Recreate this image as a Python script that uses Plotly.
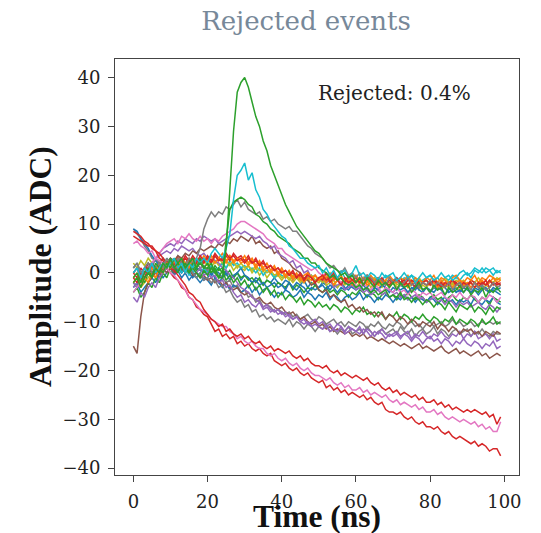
import plotly.graph_objects as go

# ---------------- data ----------------
time_ns = list(range(100))
x_ticks = [0, 20, 40, 60, 80, 100]
y_ticks = [-40, -30, -20, -10, 0, 10, 20, 30, 40]
y_tick_text = ["\u221240", "\u221230", "\u221220", "\u221210", "0", "10", "20", "30", "40"]
title_text = "Rejected events"
note_text = "Rejected: 0.4%"
x_title = "Time (ns)"
y_title = "Amplitude (ADC)"

c1_orange = [-1, 0, -2, -1, 0, 1, 0, 2, 1, 2, 1, 2, 3, 2, 1, 3, 2, 3, 2, 3.5, 2.5, 3.5, 2, 3, 4, 2.5, 3.5, 2, 3, 2.5, 3.5, 2, 3, 1.5, 2.5, 1, 2, 0.5, 1.5, 0, 1, -0.5, 0.5, -1, 0, -1.5, -0.5, 0, -1, -0.5, -1.5, -0.5, -1, 0, -1.5, -1, -0.5, -2, -1, -1.5, -0.5, -1.5, -1, -2, -0.5, -1.5, -1, -2, -1.5, -0.5, -1.5, -2, -1, -1.5, -0.5, -2, -1, -1.5, -2, -1, -1.5, -0.5, -2, -1, -1.5, -2.5, -1, -0.5, -1.5, -2, -1, -1.5, -0.5, -2, -1, -1.5, -0.5, -1, -1.5, -1]
c2_red = [0, -1, 1, 0, 2, 1, 0, 1, 2, 1, 2, 1, 3, 2, 3, 2, 3.5, 2.5, 3, 2, 3.5, 2.5, 4, 3, 2.5, 3.5, 2.5, 4, 3, 3.5, 2.5, 3.5, 2, 3, 1.5, 2, 1, 1.5, 0.5, 1, 0, 0.5, -0.5, 0, -1, -0.5, -1.5, 0, -1, -2, -1, -1.5, 0, -2, -1, -1.5, -2.5, -1, -2, -1.5, -2, -1, -2.5, -1.5, -1, -2.5, -2, -1, -2, -2.5, -1.5, -2, -1, -2.5, -1.5, -2, -3, -1.5, -2, -2.5, -2, -1.5, -2.5, -2, -3, -2, -1.5, -2.5, -2, -3, -2.5, -1.5, -2, -3, -2, -2.5, -1.5, -2.5, -2, -2.5]
c3_olive = [-2, -1, -3, -2, -1, 0, -1, 1, 0, 1, 0, 1, 2, 1, 2, 1, 2.5, 1.5, 2, 1, 2, 1, 2.5, 1.5, 2, 1, 2, 0.5, 1.5, 1, 0.5, 1.5, 0, 1, -0.5, 0.5, -1, 0, -1, -0.5, -1.5, -0.5, -1, -2, -1, -1.5, -2, -1, -2.5, -1.5, -2, -1, -2.5, -2, -1.5, -3, -2, -2.5, -1.5, -2, -3, -2, -2.5, -1.5, -3, -2, -2.5, -3, -2, -2.5, -2, -3, -2.5, -2, -3, -2.5, -2, -3.5, -2.5, -3, -2, -3, -2.5, -3.5, -2.5, -3, -2, -3, -3.5, -2.5, -3, -2, -3, -2.5, -3.5, -2.5, -3, -2, -3, -2.5]
c4_blue = [-3, -2, -4, -3, -2, -1, -2, 0, -1, 0, 1, 0, 1, 0, 2, 1, 0, 1, 0.5, 0, 1, -0.5, 0.5, 0, -1, 0.5, -0.5, -1, 0, -1.5, -0.5, -1, -2, -1, -1.5, -2.5, -1.5, -2, -1, -2, -2.5, -1.5, -2, -3, -2, -2.5, -1.5, -3, -2, -2.5, -3, -2, -2.5, -3.5, -2.5, -3, -2, -3, -3.5, -2.5, -3, -2.5, -3.5, -3, -2, -3, -3.5, -2.5, -3, -4, -3, -3.5, -2.5, -3, -4, -3, -3.5, -2.5, -3.5, -3, -4, -3, -3.5, -2.5, -3, -4, -3.5, -3, -4, -3, -3.5, -4, -3, -3.5, -2.5, -3.5, -4, -3, -3.5, -3]
c5_cyan = [1, 2, 0, 1, 2, 1, 0, 2, 1, 3, 2, 1, 2, 0, 1, -0.5, 0.5, -1, 0, 1, 0, 1.5, 0.5, 1, 2, 1, 2.5, 1.5, 2, 1, 1.5, 0.5, 1, 0, 1, -0.5, 0.5, 0, -1, 0, -0.5, -1, 0, -1.5, -0.5, -1, -2, -1, -0.5, -1.5, -1, -2, -1, -1.5, -0.5, -1.5, 0.5, -1, -1.5, -0.5, -1, -2, -1, -0.5, -1.5, -1, -2, -1.5, -0.5, -1, -1.5, -1, -2, -1, -1.5, -0.5, -1, -2, -1.5, -1, -0.5, -1.5, -1, -2, -1, -1.5, -0.5, -1, -1.5, -0.5, 0, -1, 0.5, 0, 1, 0, 0.5, 1, 0, 0.5]
c6_orange = [-2, -1, -3, -1, -2, 0, -1, 1, 0, 2, 1, 2, 1, 3, 2, 1, 3, 2, 3, 2, 3, 2, 3.5, 2.5, 3, 2, 3.5, 2.5, 3, 2, 2.5, 1.5, 2.5, 1, 2, 0.5, 1, 0, 1, -0.5, 0.5, -1, 0, -1.5, -0.5, -1, -2, -1, -1.5, -0.5, -1.5, -1, -2, -1, -2.5, -1.5, -1, -2, -1.5, -2.5, -1.5, -2, -1, -2.5, -2, -1.5, -2.5, -1.5, -2, -3, -2, -1.5, -2.5, -2, -3, -2, -1.5, -2.5, -2, -1.5, -2.5, -2, -3, -1.5, -2.5, -2, -3, -2, -1.5, -2.5, -2, -3, -2, -2.5, -1.5, -2.5, -2, -1, -2, -1.5]
c7_green = [-4, -3, -5, -4, -2, -3, -1, -2, 0, -1, 1, 0, 1, 0.5, 2, 1, 1.5, 0.5, 1, 0, 1, 0, 1.5, 0.5, 1, -0.5, 0.5, -1, 0, -1, -0.5, -1.5, -1, -2, -1, -2.5, -1.5, -2, -3, -2, -2.5, -3, -2, -3.5, -2.5, -3, -4, -3, -3.5, -2.5, -3.5, -4, -3, -4, -3.5, -4.5, -3.5, -4, -5, -4, -4.5, -3.5, -4, -5, -4, -4.5, -5.5, -4.5, -4, -5, -4.5, -5.5, -4.5, -5, -4, -5, -5.5, -4.5, -5, -6, -5, -4.5, -5.5, -5, -6, -5, -4.5, -5.5, -6, -5, -5.5, -4.5, -5.5, -6, -5, -5.5, -6.5, -5, -5.5, -6]
c8_blue = [0, 1, -1, 0, 1, 2, 1, 0, 2, 1, 2, 0.5, 1.5, 0, 1, 0, -1, 0, -0.5, -1.5, -1, 0, -1, -2, -1, 0, -1.5, -0.5, 0, 1, -0.5, -1, -2, -1.5, -2.5, -2, -3, -2.5, -2, -3, -2.5, -3.5, -2, -3, -3.5, -2.5, -3, -4, -3, -3.5, -3, -2.5, -3.5, -2.5, -3, -4, -3, -3.5, -2.5, -3, -3.5, -3, -2.5, -3.5, -4, -3, -3.5, -2.5, -3, -3.5, -4, -3, -3.5, -3, -4, -3.5, -2.5, -3.5, -4, -3, -3.5, -4, -3, -3.5, -4.5, -3.5, -3, -4, -3.5, -4, -3, -4, -3.5, -4.5, -3.5, -3, -4, -3.5, -4, -4.5]
c9_olive = [2, 1, 2.5, 1.5, 3, 2, 1, 2, 1, 2.5, 1.5, 2.5, 1.5, 3, 2, 2.5, 1.5, 3, 2, 2.5, 1.5, 2.5, 2, 3, 2, 2.5, 1.5, 2.5, 1, 2, 1, 1.5, 0.5, 1.5, 0.5, 1, 0, 0.5, -0.5, 0, -1, -0.5, -1.5, -0.5, -1, -2, -1, -1.5, -0.5, -1.5, -1, -2, -1, -1.5, -2.5, -1.5, -2, -1, -2, -1.5, -2, -1.5, -2.5, -1.5, -2, -1, -2, -2.5, -1.5, -2, -1.5, -2.5, -2, -1.5, -2.5, -1.5, -2, -1, -2, -2.5, -2, -1.5, -2.5, -2, -1, -2, -2.5, -1.5, -2, -1.5, -2.5, -1.5, -2, -1, -2, -2.5, -1.5, -2, -1, -1.5]
c10_red = [-1, -2, 0, -1, 1, 0, 1, 0, 2, 1, 2.5, 1.5, 3, 2, 3.5, 2.5, 3, 2, 3.5, 2.5, 3, 2, 3.5, 2.5, 3, 4, 3, 3.5, 2.5, 3, 2, 3, 2, 2.5, 1.5, 2.5, 1, 1.5, 0.5, 1, 0, 0.5, -0.5, 0.5, -1, 0, -1.5, -0.5, -1, -2, -1, -0.5, -1.5, -1, 0, -1.5, -1, -2, -0.5, -1.5, -1, -2, -1.5, -0.5, -1.5, -2, -1, -1.5, -2.5, -1.5, -2, -1, -2, -1.5, -2.5, -1.5, -2, -3, -2, -1.5, -2.5, -1.5, -2, -3, -2, -2.5, -1.5, -2, -3, -2, -2.5, -2, -3, -2, -2.5, -1.5, -3, -2, -2.5, -2]

green_pulse_big = [-2, -1, -3, -1, 0, -1, 1, 0, 2, 1, 3, 1, 2, 3, 1, 2, 3, 1, 2, 1, 2, 0, 1, -1, -1, 5, 17, 29, 37, 39, 40, 38, 35, 32, 30, 27, 25, 22, 20, 18, 16, 14, 12.5, 11, 9.5, 8.5, 7.5, 6.5, 5.5, 4.5, 4, 3, 2, 1.5, 1, 0.5, -0.5, 0, -1, -0.5, -2, -1, -2.5, -1, -2, -3, -1.5, -2.5, -2, -3, -2, -3.5, -2, -3, -2.5, -4, -3, -2, -3.5, -3, -4, -2.5, -3.5, -3, -4.5, -3, -4, -3.5, -2.5, -4, -3, -4.5, -3.5, -4, -3, -5, -3.5, -4, -3, -4]
cyan_pulse = [0, 1, -1, 1, 0, 2, 0, 1, 2, 1, 2, 3, 1, 2, 0, 2, 1, 3, 2, 3, 2, 4, 5, 4, 3, 5, 8, 15, 20, 21, 22.5, 19, 20.5, 17, 15.5, 13, 12, 10.5, 9.5, 8.5, 7.5, 7, 5.5, 5, 4, 3, 3, 2, 1.5, 1, 1.5, 0, 1, -0.5, 0.5, -1, 0, 0.5, -1, 0, 1.5, -0.5, 0, -1, 0, -0.5, -1.5, 0, -1, -0.5, 0, -1.5, -1, 0, -1, -0.5, -2, -1, 0, -1, -0.5, -1.5, -1, 0, -1, -0.5, -1.5, -1, 0, 0.5, -0.5, 0, 1, 0.5, 0, 1, 0.5, -0.5, 0.5, 0]
green_pulse_mid = [-1, 0, -2, 0, 1, -1, 2, 1, 0, 2, 1, 3, 2, 1, 2, 0, 2, 1, 3, 1, 1, 2, 0, 1, 0, 6, 13, 14.5, 15, 15.5, 15, 14, 13.5, 12, 11.5, 10.5, 10, 9, 8.5, 7.5, 7, 6.5, 6, 5, 4.5, 4, 3, 3, 2, 2, 1, 0.5, 0, -1, -0.5, -1.5, -1, -2, -2.5, -2, -3, -2.5, -3.5, -3, -4, -3.5, -4.5, -4, -3.5, -5, -4.5, -5, -4, -5.5, -5, -6, -5, -5.5, -6.5, -5.5, -6, -7, -6, -6.5, -7.5, -6, -7, -8, -6.5, -7, -7.5, -6.5, -8, -7, -7.5, -8.5, -7, -8, -7, -7.5]
gray_pulse = [1, 2, 0, 1, 2, 0, 1, 2, 1, 3, 2, 1, 3, 2, 1, 3, 2, 3, 5, 9, 11, 12.5, 11.5, 12.5, 12, 13.5, 13, 14, 15, 13.5, 14.5, 13, 12.5, 12, 12.5, 11, 11.5, 10.5, 11, 10, 9.5, 9, 9.5, 8.5, 8.5, 7.5, 6.5, 5.5, 5, 4, 3.5, 3, 2, 1, 1.5, 0.5, 0, 1, -0.5, 0, -1, 0, -1.5, -0.5, -1, -2, -1, -1.5, -2.5, -1, -2, -1.5, -2.5, -2, -1, -2.5, -2, -3, -2, -2.5, -1.5, -3, -2, -2.5, -3, -2, -3.5, -2.5, -2, -3, -2.5, -3.5, -2, -3, -2.5, -3.5, -3, -2, -3, -2.5]
pink_pulse = [-4, -3, -2, -1, 0, 2, 3, 4, 5, 6, 6.5, 7, 6, 7.5, 7, 8, 7, 6.5, 7.5, 6.5, 7, 6, 7, 6.5, 7.5, 8, 8.5, 9, 10, 10.5, 10.5, 10, 9.5, 9, 8.5, 8, 7, 6.5, 6, 5, 5, 4, 3.5, 3, 2.5, 2, 1.5, 1, 0.5, 1, 0, -0.5, 0, -1, -1.5, -1, -2, -1.5, -2.5, -2, -2.5, -3, -2, -3, -3.5, -2.5, -3, -4, -3, -3.5, -4, -3, -4, -3.5, -4.5, -3.5, -4, -5, -4, -4.5, -4, -5, -4.5, -4, -5, -5.5, -4.5, -5, -4, -5, -5.5, -4.5, -5, -6, -5, -5.5, -4.5, -5, -6, -5]
purple_pulse = [-2, -3, -1, 0, 1, 2, 3, 4, 5, 5.5, 6, 5.5, 6.5, 6, 7, 6.5, 6, 7, 6.5, 7.5, 7, 6.5, 7, 6, 6.5, 7, 7.5, 8, 8.5, 8, 8.5, 8, 7.5, 7, 7.5, 6.5, 6, 5, 5.5, 4, 3.5, 3, 2, 2.5, 1, 1.5, 0, 0.5, -1, -0.5, -1.5, -1, -2, -1.5, -3, -2.5, -2, -3.5, -3, -2.5, -3.5, -3, -4, -3.5, -4.5, -4, -3.5, -4.5, -4, -5, -4.5, -4, -5, -4.5, -5.5, -5, -4.5, -5.5, -5, -6, -5.5, -5, -6, -5.5, -6.5, -5.5, -6, -7, -6, -6.5, -6, -7, -6.5, -6, -7, -7.5, -6.5, -7, -8, -7]
brown_pulse = [0, 1, -1, 0, 1, 2, 1, 2, 3, 2, 3, 2.5, 3.5, 3, 4, 3.5, 4.5, 4, 5, 4.5, 5, 5.5, 5, 6, 5.5, 6.5, 6, 7, 6.5, 7.5, 7, 6.5, 7.5, 6, 6.5, 5.5, 5, 5.5, 4, 4.5, 3, 2.5, 2, 1, 0.5, 0, -1, -1.5, -2.5, -2, -3.5, -4, -3.5, -5, -4.5, -5.5, -6, -5.5, -7, -6.5, -7.5, -7, -8, -7.5, -8.5, -8, -9, -8, -9.5, -8.5, -9, -10, -9, -9.5, -10.5, -9.5, -10, -11, -10, -10.5, -11, -10, -11.5, -10.5, -11, -12, -11, -11.5, -12.5, -11.5, -12, -11.5, -12.5, -12, -13, -12, -12.5, -13, -12, -12.5]
red_decline_low = [8.5, 8, 7.5, 6.5, 6, 5, 4.5, 3, 2.5, 1, 0, -1, -1.5, -3, -3.5, -5, -5.5, -7, -7.5, -8.5, -9, -10.5, -12, -11.5, -13, -12.5, -13.5, -13, -14.5, -14, -15, -14.5, -15.5, -16, -15.5, -16.5, -17, -16.5, -18, -18.5, -19, -18.5, -19.5, -20, -19.5, -20.5, -21, -20.5, -21.5, -22, -22.5, -22, -23.5, -23, -24, -23.5, -24.5, -24, -25, -24.5, -25, -25.5, -25, -26, -25.5, -26.5, -27, -26.5, -28, -28.5, -28.5, -29, -28.5, -29.5, -30, -29.5, -30.5, -31, -30.5, -31.5, -31.5, -32, -31.5, -32.5, -33, -32.5, -33.5, -34, -33.5, -34, -34.5, -35, -34.5, -35.5, -35, -35.5, -36.5, -36, -36, -37.5]
red_decline_high = [7.5, 7, 6.5, 6, 5.5, 5.5, 4.5, 4, 3, 2, 1, 0.5, -0.5, -1.5, -2.5, -4, -4.5, -5.5, -6, -7.5, -8.5, -9.5, -10, -11, -10.5, -12, -11.5, -12.5, -13, -12.5, -13.5, -13, -14, -14.5, -14, -15, -15.5, -15, -16, -15.5, -16, -16.5, -16, -17, -17.5, -17, -18, -17.5, -18.5, -19, -19, -19.5, -19, -20, -20.5, -20, -21, -20.5, -21, -21.5, -21, -21.5, -22, -21.5, -22.5, -23, -22.5, -23.5, -24, -23.5, -24.5, -24, -25, -24.5, -25, -25.5, -25, -26, -25.5, -26.5, -26.5, -26, -27, -26.5, -27.5, -27, -28, -27.5, -28, -28.5, -28, -28.5, -28, -28.5, -29, -28.5, -29.5, -29, -31, -29.5]
pink_decline = [6, 6.5, 5.5, 5, 4, 4.5, 3, 2.5, 2, 1, 0, -0.5, -1.5, -2.5, -3.5, -5, -5.5, -6.5, -7.5, -8, -8.5, -9.5, -10, -10.5, -11, -11, -12, -12.5, -13.5, -13, -14, -14.5, -14, -15, -15.5, -15.5, -16.5, -17, -16.5, -17.5, -18, -17.5, -18.5, -19, -18.5, -19.5, -20, -19.5, -20.5, -21, -21, -21.5, -22, -21.5, -22.5, -23, -22.5, -23.5, -23, -24, -24, -23.5, -24.5, -24, -25, -24.5, -25, -25.5, -25, -26, -26.5, -26, -27, -26.5, -27, -27.5, -27, -28, -27.5, -28.5, -28.5, -28, -29, -28.5, -29.5, -30, -29.5, -30, -30.5, -30, -30.5, -31, -30.5, -31.5, -31, -32, -31.5, -32.5, -32.5, -30.5]
brown_low_start = [-15, -16.5, -9, -4, -2, -1, 0, -1, 1, 0, 1, 0, 2, 1, 0, 1, -0.5, 0, -1, -0.5, -1.5, -1, -2, -1.5, -2.5, -2, -3, -3.5, -3, -4, -4.5, -4, -5, -5.5, -5, -6, -6.5, -6, -7, -7.5, -7, -8, -8.5, -8, -9, -9.5, -9, -10, -10.5, -10, -11, -10.5, -11.5, -11, -12, -11.5, -12, -12.5, -12, -13, -12.5, -13, -12.5, -13.5, -13, -13.5, -14, -13.5, -14, -14.5, -14, -14.5, -15, -14.5, -15, -15.5, -15, -14.5, -15.5, -15, -15.5, -16, -15.5, -15, -16, -16.5, -16, -15.5, -16.5, -16, -16.5, -17, -16.5, -16, -17, -16.5, -17.5, -17, -16.5, -17]
gray_low = [1, 2, 0, 1, 2, 1, 3, 2, 1, 2, 3, 2, 1, 2, 0, 1, 0, -1, 0, -1.5, -1, -2, -1.5, -3, -2.5, -4, -3.5, -5, -6, -5.5, -7, -6.5, -8, -7.5, -9, -8.5, -9.5, -9, -10, -9.5, -10, -10.5, -9.5, -11, -10, -10.5, -11.5, -10.5, -11, -12, -11, -11.5, -10.5, -12, -11.5, -12.5, -11.5, -12, -11, -12.5, -12, -11.5, -12.5, -11, -12, -13, -12, -11.5, -12.5, -12, -11.5, -12.5, -11, -12, -12.5, -11.5, -13, -12, -11.5, -12.5, -12, -11, -12.5, -11.5, -12, -13, -12, -11.5, -12.5, -12, -11.5, -13, -12, -12.5, -11.5, -12.5, -13, -12, -12.5, -12.5]
purple_low = [-5, -6, -4, -5, -3, -2, -3, -1, 0, 1, 2, 1, 2.5, 1, 2, 0.5, 1, 0, 1, -0.5, 0, -1, -0.5, -2, -1.5, -3, -2.5, -4, -5, -4.5, -6, -5.5, -6.5, -7, -6, -7.5, -7, -8, -7.5, -8.5, -8, -9, -8.5, -9.5, -9, -10, -9.5, -10.5, -10, -9.5, -10.5, -10, -11, -10.5, -11.5, -10.5, -11, -12, -11, -11.5, -12, -11, -12.5, -11.5, -12, -13, -12, -12.5, -13.5, -12.5, -13, -12.5, -13.5, -12.5, -13, -14, -13, -13.5, -14.5, -13.5, -13, -14, -13.5, -14.5, -13.5, -14, -15, -14, -14.5, -13.5, -14.5, -15, -14, -14.5, -15.5, -14.5, -15, -14, -15.5, -15]
purple_low2 = [-3, -2, -1, 0, 1, 2, 3, 3.5, 4, 4.5, 4, 5, 4.5, 5.5, 5, 4.5, 5, 4, 3.5, 4, 3, 3.5, 2.5, 2, 1, 0.5, -0.5, -1, -2, -3, -3.5, -4, -5, -5.5, -6, -7, -6.5, -7.5, -8, -7.5, -8.5, -8, -9, -9.5, -9, -10, -10.5, -10, -11, -10.5, -11, -11.5, -11, -12, -11.5, -12, -11, -12.5, -12, -11.5, -12, -12.5, -11.5, -12, -13, -12, -12.5, -11.5, -12.5, -13, -12.5, -12, -13, -12.5, -12, -13.5, -12.5, -13, -12, -13, -13.5, -12.5, -13, -12, -13, -13.5, -12.5, -13, -12, -13.5, -12.5, -13, -12, -13.5, -13, -12.5, -13.5, -12.5, -14, -13.5]
gray_low2 = [9, 8, 7, 5.5, 4.5, 3, 2.5, 2, 3, 2, 3, 2, 3.5, 2.5, 2, 3, 1.5, 2, 1, 1.5, 0.5, 1, 0, -0.5, -1, -2, -1.5, -3, -2.5, -4, -3.5, -5, -4.5, -6, -5.5, -7, -6.5, -7, -8, -7.5, -8, -8.5, -8, -9, -8.5, -9.5, -9, -8.5, -9.5, -10, -9, -9.5, -10.5, -10, -9.5, -10.5, -10, -11, -10, -10.5, -11, -10, -10.5, -11.5, -10.5, -11, -10, -11, -11.5, -10.5, -11, -10, -10.5, -11.5, -10.5, -10, -11, -10.5, -11.5, -10.5, -10, -11, -10.5, -10, -11, -10.5, -9.5, -10.5, -10, -11, -10.5, -10, -11, -10.5, -10, -10.5, -10, -10.5, -10, -10.5]
blue_high_start = [9, 8.5, 7, 6, 5, 3.5, 2.5, 1.5, 1, 0, 1, -0.5, 0.5, -1, 0, -1.5, -0.5, -1, -2, -1, -1.5, -2.5, -1, -2, -3, -2, -3.5, -2.5, -3, -4, -3.5, -2.5, -4, -3, -4.5, -3.5, -3, -4, -5, -4, -4.5, -3.5, -4, -5, -4.5, -3.5, -5, -4, -4.5, -5.5, -4.5, -5, -4, -5.5, -4.5, -5, -6, -5, -4.5, -5.5, -5, -4, -5.5, -4.5, -5, -6, -5, -5.5, -4.5, -5, -6, -5, -5.5, -4.5, -5.5, -5, -6, -5, -5.5, -6, -5, -5.5, -6.5, -5.5, -5, -6, -5.5, -6.5, -5.5, -6, -5.5, -6.5, -5, -6, -6.5, -5.5, -6, -5, -6, -6.5]
green_low = [-2, -3, -1, -2, 0, -1, 1, 0, 2, 1, 2, 1, 0, 2, 1, 0, 1, 0, -1, 0.5, -0.5, 1, 0, -1, 0.5, -1.5, -0.5, -2, -1, -2.5, -1.5, -3, -2, -3.5, -2.5, -4, -3, -4.5, -3.5, -5, -4, -5.5, -4.5, -5, -6, -5, -6.5, -5.5, -6, -7, -6, -7, -6.5, -7.5, -6.5, -7, -8, -7, -7.5, -8.5, -7.5, -8, -7, -8.5, -8, -9, -8, -8.5, -9.5, -8.5, -9, -8, -9.5, -8.5, -9, -10, -9, -9.5, -8.5, -9.5, -10, -9, -9.5, -10.5, -9.5, -10, -9, -10.5, -9.5, -10, -10.5, -9.5, -10, -11, -9.5, -10.5, -10, -9, -10.5, -10]

# ---------------- styles ----------------
TAB = {
    "blue": "#1f77b4", "orange": "#ff7f0e", "green": "#2ca02c", "red": "#d62728",
    "purple": "#9467bd", "brown": "#8c564b", "pink": "#e377c2", "gray": "#7f7f7f",
    "olive": "#bcbd22", "cyan": "#17becf",
}

traces = [
    (c4_blue, "blue"), (c7_green, "green"), (c3_olive, "olive"), (c8_blue, "blue"),
    (c5_cyan, "cyan"), (c9_olive, "olive"),
    (gray_low2, "gray"), (blue_high_start, "blue"),
    (brown_low_start, "brown"), (gray_low, "gray"), (purple_low, "purple"),
    (purple_low2, "purple"), (green_low, "green"), (brown_pulse, "brown"),
    (purple_pulse, "purple"), (pink_pulse, "pink"),
    (red_decline_low, "red"), (pink_decline, "pink"), (red_decline_high, "red"),
    (c6_orange, "orange"), (c2_red, "red"), (c1_orange, "orange"), (c10_red, "red"),
    (gray_pulse, "gray"), (green_pulse_mid, "green"), (cyan_pulse, "cyan"),
    (green_pulse_big, "green"),
]

fig = go.Figure()
for vals, col in traces:
    fig.add_trace(go.Scatter(x=time_ns, y=vals, mode="lines",
                             line=dict(color=TAB[col], width=1.5),
                             showlegend=False, hoverinfo="skip"))

SERIF = "DejaVu Serif"
TITLE_SERIF = "Liberation Serif"
axis_common = dict(
    showgrid=False, zeroline=False, showline=True, mirror=True,
    linecolor="#444", linewidth=1, ticks="outside", ticklen=6, tickwidth=1,
    tickcolor="#444", ticklabelstandoff=4, automargin=False,
    tickfont=dict(family=SERIF, size=18, color="#222"),
)
label_font = dict(family=TITLE_SERIF, size=31.5, color="#111")

W, H = 541, 533
fig.update_layout(
    width=W, height=H,
    margin=dict(l=115, r=22, t=59, b=58, autoexpand=False),
    paper_bgcolor="white", plot_bgcolor="white",
    title=dict(text=title_text, x=306 / W, xanchor="center", xref="container",
               y=1 - 21 / H, yanchor="middle", yref="container",
               pad=dict(t=0, b=0, l=0, r=0),
               font=dict(family=SERIF, size=26, color="#778899")),
    xaxis=dict(range=[-4.95, 103.95], tickvals=x_ticks, **axis_common),
    yaxis=dict(range=[-41.4, 43.8], tickvals=y_ticks, ticktext=y_tick_text,
               **axis_common),
    annotations=[
        dict(text=note_text, xref="paper", yref="paper", x=0.693, y=0.918,
             xanchor="center", yanchor="middle", showarrow=False,
             font=dict(family=SERIF, size=20, color="#222")),
        dict(text="<b>" + x_title + "</b>", xref="paper", yref="paper",
             x=0.5, y=-41 / 416, xanchor="center", yanchor="middle",
             showarrow=False, font=label_font),
        dict(text="<b>" + y_title + "</b>", xref="paper", yref="paper",
             x=-75 / 404, y=0.5, xanchor="center", yanchor="middle",
             textangle=-90, showarrow=False, font=label_font),
    ],
)

# remove the default 8px page margin so the figure fills the window exactly
fig.write_html("out.html",
               config=dict(displayModeBar=False),
               post_script="document.body.style.margin='0';document.body.style.padding='0';")
